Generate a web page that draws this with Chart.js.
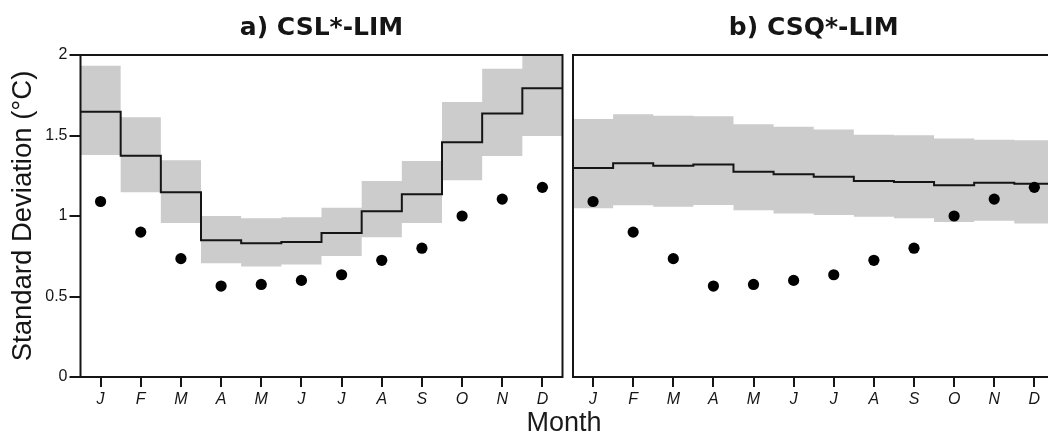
<!DOCTYPE html>
<html>
<head>
<meta charset="utf-8">
<script src="https://cdn.jsdelivr.net/npm/chart.js@4.4.1/dist/chart.umd.min.js"></script>
<style>
  html, body { margin: 0; padding: 0; background: #fff; width: 1048px; height: 433px; overflow: hidden; }
  canvas { position: absolute; top: 0; }
  #ca { left: 0; }
  #cb { left: 566px; }
  #month { position: absolute; left: 464px; width: 200px; top: 409px; text-align: center;
           font: 27px "Liberation Sans", Arial, sans-serif; line-height: 27px; color: #1a1a1a; }
</style>
</head>
<body>
<canvas id="ca" width="570" height="433"></canvas>
<canvas id="cb" width="494" height="433"></canvas>
<div id="month">Month</div>
<script>
// ---- data ----
const months = ['J','F','M','A','M','J','J','A','S','O','N','D'];
const yTicks = [0, 0.5, 1, 1.5, 2];
const yTickLabels = ['0', '0.5', '1', '1.5', '2'];
const obsStd = [1.09, 0.90, 0.735, 0.565, 0.575, 0.60, 0.635, 0.725, 0.80, 1.00, 1.105, 1.178];

const cslMean  = [1.648, 1.375, 1.147, 0.849, 0.830, 0.838, 0.894, 1.029, 1.135, 1.458, 1.636, 1.793];
const cslUpper = [1.934, 1.613, 1.346, 1.000, 0.986, 0.992, 1.052, 1.217, 1.342, 1.708, 1.915, 2.06];
const cslLower = [1.379, 1.147, 0.957, 0.706, 0.687, 0.698, 0.752, 0.868, 0.957, 1.222, 1.373, 1.497];

const csqMean  = [1.298, 1.327, 1.312, 1.320, 1.275, 1.259, 1.244, 1.217, 1.211, 1.191, 1.206, 1.200];
const csqUpper = [1.602, 1.632, 1.623, 1.619, 1.570, 1.555, 1.538, 1.505, 1.501, 1.482, 1.474, 1.470];
const csqLower = [1.048, 1.066, 1.058, 1.068, 1.035, 1.016, 1.006, 0.995, 0.986, 0.963, 0.970, 0.954];

// ---- helpers building library tables from the arrays ----
function steps(vals) {
  const pts = [];
  vals.forEach((v, i) => { pts.push({x: i + 0.5, y: v}); pts.push({x: i + 1.5, y: v}); });
  return pts;
}
function dots(vals) { return vals.map((v, i) => ({x: i + 1, y: v})); }

const INK = '#151515';
const GRAY = '#cccccc';
const tickFont = {family: '"Liberation Sans", Arial, sans-serif', size: 16};

const frame = {
  id: 'frame',
  afterDatasetsDraw(chart) {
    const {ctx, chartArea: {left, top, right, bottom}} = chart;
    ctx.save();
    ctx.strokeStyle = INK;
    ctx.lineWidth = 2;
    ctx.strokeRect(left, top, right - left, bottom - top);
    ctx.restore();
  }
};

function makeConfig(title, mean, upper, lower, isLeft) {
  return {
    type: 'line',
    data: {
      datasets: [
        {data: dots(obsStd), showLine: false, pointRadius: 5.6, pointBackgroundColor: '#000',
         pointBorderWidth: 0, borderColor: '#000'},
        {data: steps(mean), borderColor: INK, borderWidth: 2, pointRadius: 0, fill: false, tension: 0},
        {data: steps(upper), borderWidth: 0, borderColor: 'rgba(0,0,0,0)', pointRadius: 0,
         fill: '+1', backgroundColor: GRAY, tension: 0},
        {data: steps(lower), borderWidth: 0, borderColor: 'rgba(0,0,0,0)', pointRadius: 0,
         fill: false, tension: 0}
      ]
    },
    options: {
      responsive: false,
      animation: false,
      events: [],
      layout: {padding: {left: 0, right: isLeft ? 7.5 : 5, top: 0, bottom: 0}},
      plugins: {
        legend: {display: false},
        tooltip: {enabled: false},
        title: {
          display: true, text: title, fullSize: false, color: INK,
          font: {family: '"DejaVu Sans", sans-serif', size: 25, weight: 'bold'},
          padding: {top: 13, bottom: 12}
        }
      },
      scales: {
        x: {
          type: 'linear', min: 0.5, max: 12.5,
          afterBuildTicks: s => { s.ticks = months.map((m, i) => ({value: i + 1})); },
          afterFit: s => { s.height = 56; },
          border: {display: false},
          grid: {display: true, drawOnChartArea: false, drawTicks: true, tickLength: 10, color: INK, lineWidth: 2},
          ticks: {
            color: INK, padding: 3, maxRotation: 0, autoSkip: false,
            font: Object.assign({}, tickFont, {style: 'italic'}),
            callback: (v) => months[Math.round(v) - 1]
          }
        },
        y: {
          type: 'linear', min: 0, max: 2,
          afterBuildTicks: s => { s.ticks = yTicks.map(v => ({value: v})); },
          afterFit: s => { s.width = isLeft ? 80.5 : 7; },
          border: {display: false},
          grid: {display: isLeft, drawOnChartArea: false, drawTicks: true, tickLength: 11, color: INK, lineWidth: 2},
          ticks: {display: isLeft, color: INK, padding: 2, font: tickFont,
                  callback: (v) => yTickLabels[yTicks.indexOf(v)]},
          title: {
            display: isLeft, text: 'Standard Deviation (°C)', color: INK,
            font: {family: '"Liberation Sans", Arial, sans-serif', size: 27.5},
            padding: {top: 7, bottom: 0}
          }
        }
      }
    },
    plugins: [frame]
  };
}

new Chart(document.getElementById('ca'), makeConfig('a) CSL*-LIM', cslMean, cslUpper, cslLower, true));
new Chart(document.getElementById('cb'), makeConfig('b) CSQ*-LIM', csqMean, csqUpper, csqLower, false));
</script>
</body>
</html>
